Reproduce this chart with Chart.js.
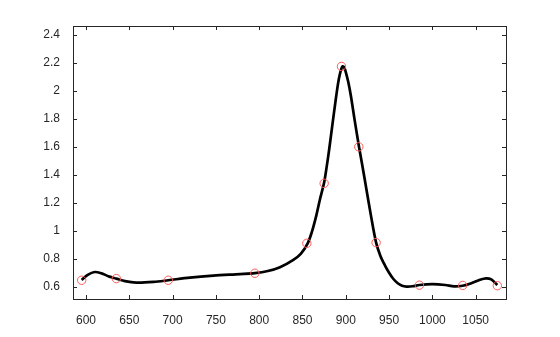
<!DOCTYPE html>
<html>
<head>
<meta charset="utf-8">
<script src="https://cdn.jsdelivr.net/npm/chart.js@4"></script>
<style>
    body { margin: 0; background: #fff; }
    canvas { display: block; }
</style>
</head>
<body>
<canvas id="myChart" width="560" height="337"></canvas>
<script>
// measured points (red circles)
var pointX = [595, 635, 695, 795, 855, 875, 895, 915, 935, 985, 1035, 1075];
var pointY = [0.646, 0.658, 0.646, 0.696, 0.91, 1.339, 2.175, 1.60, 0.915, 0.611, 0.609, 0.607];

// fitted curve
var curveX = [595, 602, 610, 618, 627, 635, 645, 658, 678, 695, 720, 747, 778, 795, 810, 824, 839, 848, 856, 861, 866, 870, 875,
    878, 881, 885, 888, 891, 893, 895, 896.5, 898, 900, 903, 906, 910, 915, 919, 924, 929, 935, 940, 945, 950, 955, 960, 965, 970, 977, 985,
    1000, 1015, 1025, 1035, 1045, 1055, 1062, 1068, 1075];
var curveY = [0.648, 0.685, 0.705, 0.695, 0.672, 0.658, 0.64, 0.629, 0.634, 0.646, 0.665, 0.679, 0.690, 0.697, 0.712, 0.739, 0.79, 0.835, 0.91, 0.995, 1.11, 1.22, 1.345,
    1.46, 1.59, 1.78, 1.92, 2.05, 2.115, 2.16, 2.176, 2.17, 2.135, 2.06, 1.96, 1.80, 1.61, 1.47, 1.29, 1.11, 0.915, 0.82, 0.755, 0.70, 0.655, 0.625, 0.607, 0.601, 0.603, 0.612,
    0.618, 0.612, 0.602, 0.607, 0.625, 0.65, 0.66, 0.652, 0.612];

var xTicks = [600, 650, 700, 750, 800, 850, 900, 950, 1000, 1050];
var yTicks = [0.6, 0.8, 1, 1.2, 1.4, 1.6, 1.8, 2, 2.2, 2.4];

var axisColor = '#262626';

// matlab style box with inward ticks
const boxTicks = {
    id: 'boxTicks',
    afterDraw(chart) {
        const c = chart.ctx, a = chart.chartArea;
        const xs = chart.scales.x, ys = chart.scales.y;
        const len = 4;
        c.save();
        c.strokeStyle = axisColor;
        c.lineWidth = 1;
        c.beginPath();
        xTicks.forEach(function (v) {
            var px = Math.round(xs.getPixelForValue(v)) + 0.5;
            c.moveTo(px, a.bottom); c.lineTo(px, a.bottom - len);
            c.moveTo(px, a.top); c.lineTo(px, a.top + len);
        });
        yTicks.forEach(function (v) {
            var py = Math.round(ys.getPixelForValue(v)) + 0.5;
            c.moveTo(a.left, py); c.lineTo(a.left + len, py);
            c.moveTo(a.right, py); c.lineTo(a.right - len, py);
        });
        c.stroke();
        c.strokeRect(Math.round(a.left) + 0.5, Math.round(a.top) + 0.5,
            Math.round(a.right - a.left), Math.round(a.bottom - a.top));
        c.restore();
    }
};

const ctx = document.getElementById('myChart');
new Chart(ctx, {
    type: 'scatter',
    data: {
        datasets: [{
                label: 'points',
                data: pointX.map((x, i) => ({x: x, y: pointY[i]})),
                showLine: false,
                pointStyle: 'circle',
                pointRadius: 4.2,
                pointBorderWidth: 1,
                pointBorderColor: '#ff5a5a',
                pointBackgroundColor: 'rgba(0,0,0,0)',
                order: 0
            }, {
                label: 'curve',
                data: curveX.map((x, i) => ({x: x, y: curveY[i]})),
                showLine: true,
                borderColor: '#000',
                borderWidth: 2.7,
                pointRadius: 0,
                tension: 0.3,
                order: 1
            }]
    },
    options: {
        responsive: false,
        animation: false,
        layout: {padding: {left: 0, right: 54, top: 26, bottom: 0}},
        plugins: {legend: {display: false}, tooltip: {enabled: false}},
        scales: {
            x: {
                type: 'linear',
                min: 585,
                max: 1085,
                grid: {display: false},
                border: {display: false},
                afterBuildTicks: s => { s.ticks = xTicks.map(v => ({value: v})); },
                afterFit: s => { s.height = 38; },
                ticks: {
                    padding: 6,
                    color: axisColor,
                    font: {family: 'Liberation Sans, Arial', size: 12},
                    maxRotation: 0,
                    autoSkip: false,
                    callback: v => String(v)
                }
            },
            y: {
                min: 0.512,
                max: 2.464,
                grid: {display: false},
                border: {display: false},
                afterBuildTicks: s => { s.ticks = yTicks.map(v => ({value: v})); },
                afterFit: s => { s.width = 73; },
                ticks: {
                    padding: 5,
                    color: axisColor,
                    font: {family: 'Liberation Sans, Arial', size: 12},
                    autoSkip: false,
                    callback: v => String(v)
                }
            }
        }
    },
    plugins: [boxTicks]
});
</script>
</body>
</html>
